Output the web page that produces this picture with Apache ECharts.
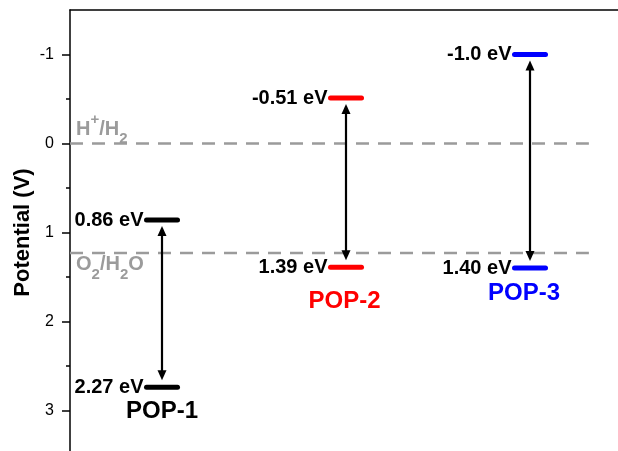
<!DOCTYPE html>
<html><head><meta charset="utf-8">
<script src="https://cdn.jsdelivr.net/npm/echarts@6/dist/echarts.min.js"></script>
<style>html,body{margin:0;padding:0;background:#fff}#c{width:618px;height:451px}</style>
</head><body><div id="c"></div>
<script>
// ---- data ----
const materials = ['POP-1', 'POP-2', 'POP-3'];
const materialPos = [1, 2, 3];
const upperLevels = [0.86, -0.51, -1.0];
const lowerLevels = [2.74, 1.39, 1.40];
const upperLabels = ['0.86 eV', '-0.51 eV', '-1.0 eV'];
const lowerLabels = ['2.27 eV', '1.39 eV', '1.40 eV'];
const refPotentials = [0, 1.23];
const refNames = ['H{sup|+}/H{sub|2}', 'O{sub|2}/H{sub|2}O'];
const yTickValues = [-1, 0, 1, 2, 3];
const yMinorTickValues = [-0.5, 0.5, 1.5, 2.5];

// ---- styles / layout ----
const FONT = '"Liberation Sans", Arial, sans-serif';
const materialColors = ['#000000', '#ff0000', '#0000ff'];
const nameOffsets = [[0, 24], [-1.5, 34], [-6, 25]];
const refLabelDy = [-14, 12];
const refColor = '#9b9b9b';
const X_MIN = 0.5, X_MAX = 3.5;

const chart = echarts.init(document.getElementById('c'), null, {renderer: 'canvas'});

function txt(text, x, y, align, size, color) {
  return {type: 'text', style: {text: text, x: x, y: y, align: align, verticalAlign: 'middle',
    fontSize: size, fontWeight: 'bold', fontFamily: FONT, fill: color}};
}

function renderLevel(params, api) {
  const i = params.dataIndex;
  const top = api.coord([api.value(0), api.value(1)]);
  const bot = api.coord([api.value(0), api.value(2)]);
  const cx = top[0];
  const color = materialColors[i];
  const half = 15.5;
  const gapT = 6, gapB = 7, headL = 10, headW = 4.5;
  const yT = top[1] + gapT, yB = bot[1] - gapB;
  return {type: 'group', children: [
    {type: 'line', shape: {x1: cx - half, y1: top[1], x2: cx + half, y2: top[1]},
      style: {stroke: color, lineWidth: 5, lineCap: 'round'}},
    {type: 'line', shape: {x1: cx - half, y1: bot[1], x2: cx + half, y2: bot[1]},
      style: {stroke: color, lineWidth: 5, lineCap: 'round'}},
    {type: 'line', shape: {x1: cx, y1: yT + headL - 1, x2: cx, y2: yB - headL + 1},
      style: {stroke: '#000', lineWidth: 2.2}},
    {type: 'polygon', shape: {points: [[cx, yT], [cx - headW, yT + headL], [cx + headW, yT + headL]]},
      style: {fill: '#000'}},
    {type: 'polygon', shape: {points: [[cx, yB], [cx - headW, yB - headL], [cx + headW, yB - headL]]},
      style: {fill: '#000'}},
    txt(upperLabels[i], cx - half - 3, top[1], 'right', 20, '#000'),
    txt(lowerLabels[i], cx - half - 3, bot[1], 'right', 20, '#000'),
    txt(materials[i], cx + nameOffsets[i][0], bot[1] + nameOffsets[i][1], 'center', 24, color)
  ]};
}

function renderRef(params, api) {
  const i = params.dataIndex;
  const p = api.coord([api.value(0), api.value(1)]);
  const cs = params.coordSys;
  const left = cs.x, right = cs.x + cs.width * 0.94;
  const base = {fontSize: 20, fontWeight: 'bold', fontFamily: FONT, fill: refColor};
  return {type: 'group', children: [
    {type: 'line', shape: {x1: left, y1: p[1], x2: right, y2: p[1]},
      style: {stroke: refColor, lineWidth: 2.5, lineDash: [13, 9]}},
    {type: 'text', style: Object.assign({
      text: refNames[i], x: left + 6, y: p[1] + refLabelDy[i], align: 'left', verticalAlign: 'middle',
      lineHeight: 34,
      rich: {
        sup: Object.assign({}, base, {fontSize: 15, lineHeight: 10, verticalAlign: 'top'}),
        sub: Object.assign({}, base, {fontSize: 15, lineHeight: 24, verticalAlign: 'bottom'})
      }}, base)}
  ]};
}

chart.setOption({
  animation: false,
  grid: {left: 70, right: -4, top: 10, height: 445, containLabel: false, outerBoundsMode: 'none'},
  xAxis: {
    type: 'value', min: X_MIN, max: X_MAX, position: 'top',
    axisLine: {show: true, onZero: false, lineStyle: {color: '#000', width: 1.5}},
    axisTick: {show: false}, axisLabel: {show: false}, splitLine: {show: false}
  },
  yAxis: [{
    type: 'value', min: -1.5, max: 3.5, inverse: true, position: 'left', offset: 0,
    name: 'Potential (V)', nameLocation: 'middle', nameGap: 36, nameRotate: 90, nameMoveOverlap: false,
    nameTextStyle: {fontSize: 22, fontWeight: 'bold', fontFamily: FONT, color: '#000'},
    axisLine: {show: true, onZero: false, lineStyle: {color: '#000', width: 1.5}},
    axisTick: {show: true, inside: false, length: 8, customValues: yTickValues, lineStyle: {color: '#000', width: 1.5}},
    axisLabel: {show: true, customValues: yTickValues, margin: 16, fontSize: 16, fontFamily: FONT, color: '#000'},
    splitLine: {show: false}
  }, {
    type: 'value', min: -1.5, max: 3.5, inverse: true, position: 'left', offset: 0,
    axisLine: {show: false},
    axisTick: {show: true, inside: false, length: 4, customValues: yMinorTickValues, lineStyle: {color: '#000', width: 1.5}},
    axisLabel: {show: false}, splitLine: {show: false}
  }],
  series: [{
    type: 'custom', coordinateSystem: 'cartesian2d', yAxisIndex: 0,
    renderItem: renderRef, clip: false,
    data: refPotentials.map(v => [X_MIN, v])
  }, {
    type: 'custom', coordinateSystem: 'cartesian2d', yAxisIndex: 0,
    renderItem: renderLevel, clip: false,
    encode: {x: 0, y: [1, 2]},
    data: materialPos.map((x, i) => [x, upperLevels[i], lowerLevels[i]])
  }]
});
</script></body></html>
